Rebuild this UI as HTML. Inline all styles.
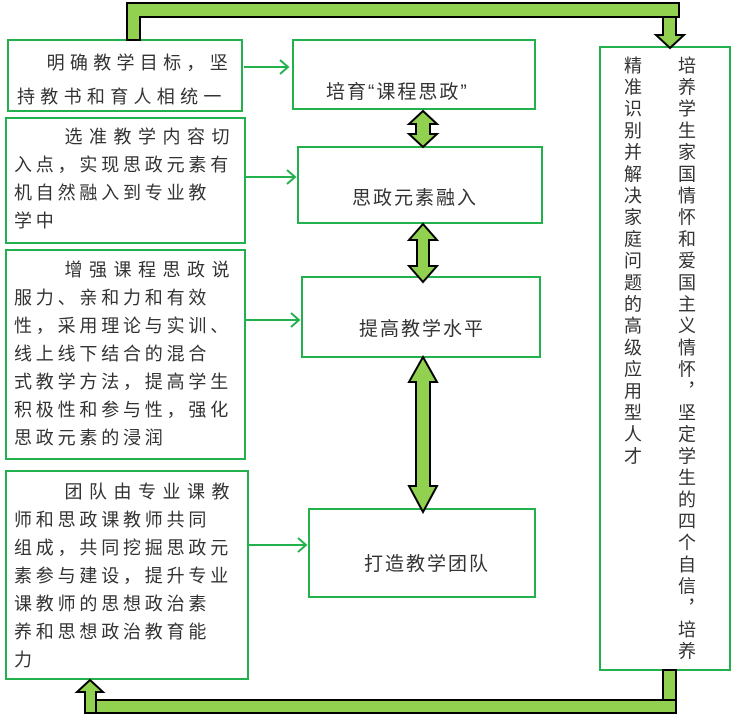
<!DOCTYPE html>
<html><head><meta charset="utf-8"><style>
html,body{margin:0;padding:0;background:#fff;}
#c{position:relative;width:738px;height:720px;overflow:hidden;font-family:"Liberation Sans","Noto Sans CJK SC",sans-serif;color:#333;}
.b{position:absolute;border:2px solid #22b14c;box-sizing:border-box;background:#fff;}
.t{position:absolute;font-size:18px;letter-spacing:3.8px;white-space:nowrap;line-height:28px;width:222px;}
.t .f{text-align:right;}
.m{position:absolute;font-size:19px;white-space:nowrap;letter-spacing:2px;}
.v{position:absolute;writing-mode:vertical-rl;font-size:18px;letter-spacing:3.7px;line-height:20px;}
svg{position:absolute;left:0;top:0;}
</style></head><body><div id="c">
<div class="b" style="left:7px;top:39px;width:236px;height:73px"></div>
<div class="b" style="left:292px;top:39px;width:244px;height:71px"></div>
<div class="b" style="left:5px;top:117px;width:241px;height:127px"></div>
<div class="b" style="left:297px;top:146px;width:246px;height:78px"></div>
<div class="b" style="left:5px;top:249px;width:241px;height:211px"></div>
<div class="b" style="left:301px;top:276px;width:240px;height:82px"></div>
<div class="b" style="left:5px;top:470px;width:244px;height:210px"></div>
<div class="b" style="left:308px;top:508px;width:228px;height:90px"></div>
<div class="b" style="left:599px;top:46px;width:132px;height:625px"></div>

<svg width="738" height="720">
<g fill="#92d050" stroke="#000" stroke-width="2">
<path d="M127 3 H679 V17 H140 V40 H127 Z"/>
<path d="M663 17 H676 V35 H684 L670 48 L656 35 H663 Z"/>
<path d="M663 670 H676 V713 H663 Z"/>
<rect x="96" y="700" width="580" height="13"/>
<path d="M85 713 V692 H77 L90 680 L103 692 H96 V713 Z"/>
<path d="M423 111 L437 124 H430 V134 H437 L423 147 L409 134 H416 V124 H409 Z"/>
<path d="M423 224 L437 240 H429 V266 H437 L423 282 L409 266 H417 V240 H409 Z"/>
<path d="M423 357 L437 382 H430 V486 H437 L423 512 L409 486 H416 V382 H409 Z"/>
</g>
<g stroke="#22b14c" stroke-width="2" fill="none">
<path d="M244 67 H288 M280 60 L288 67 L280 74"/>
<path d="M246 177 H295 M287 170 L295 177 L287 184"/>
<path d="M246 320 H299 M291 313 L299 320 L291 327"/>
<path d="M249 545 H306 M298 538 L306 545 L298 552"/>
</g>
</svg>

<div class="t" style="left:17px;top:46px;line-height:34px;letter-spacing:5.3px;width:216px"><div class="f">明确教学目标，坚</div><div>持教书和育人相统一</div></div>
<div class="t" style="left:14px;top:123px"><div class="f" style="letter-spacing:6.5px">选准教学内容切</div><div>入点，实现思政元素有<br>机自然融入到专业教<br>学中</div></div>
<div class="t" style="left:14px;top:256px"><div class="f" style="letter-spacing:6.5px">增强课程思政说</div><div>服力、亲和力和有效<br>性，采用理论与实训、<br>线上线下结合的混合<br>式教学方法，提高学生<br>积极性和参与性，强化<br>思政元素的浸润</div></div>
<div class="t" style="left:14px;top:478px"><div class="f" style="letter-spacing:6.5px">团队由专业课教</div><div>师和思政课教师共同<br>组成，共同挖掘思政元<br>素参与建设，提升专业<br>课教师的思想政治素<br>养和思想政治教育能<br>力</div></div>

<div class="m" style="left:326px;top:77px">培育“课程思政”</div>
<div class="m" style="left:352px;top:183px">思政元素融入</div>
<div class="m" style="left:359px;top:314px">提高教学水平</div>
<div class="m" style="left:364px;top:549px">打造教学团队</div>

<div class="v" style="left:676px;top:56px">培养学生家国情怀和爱国主义情怀，坚定学生的四个自信，培养</div>
<div class="v" style="left:622px;top:56px">精准识别并解决家庭问题的高级应用型人才</div>
</div></body></html>
